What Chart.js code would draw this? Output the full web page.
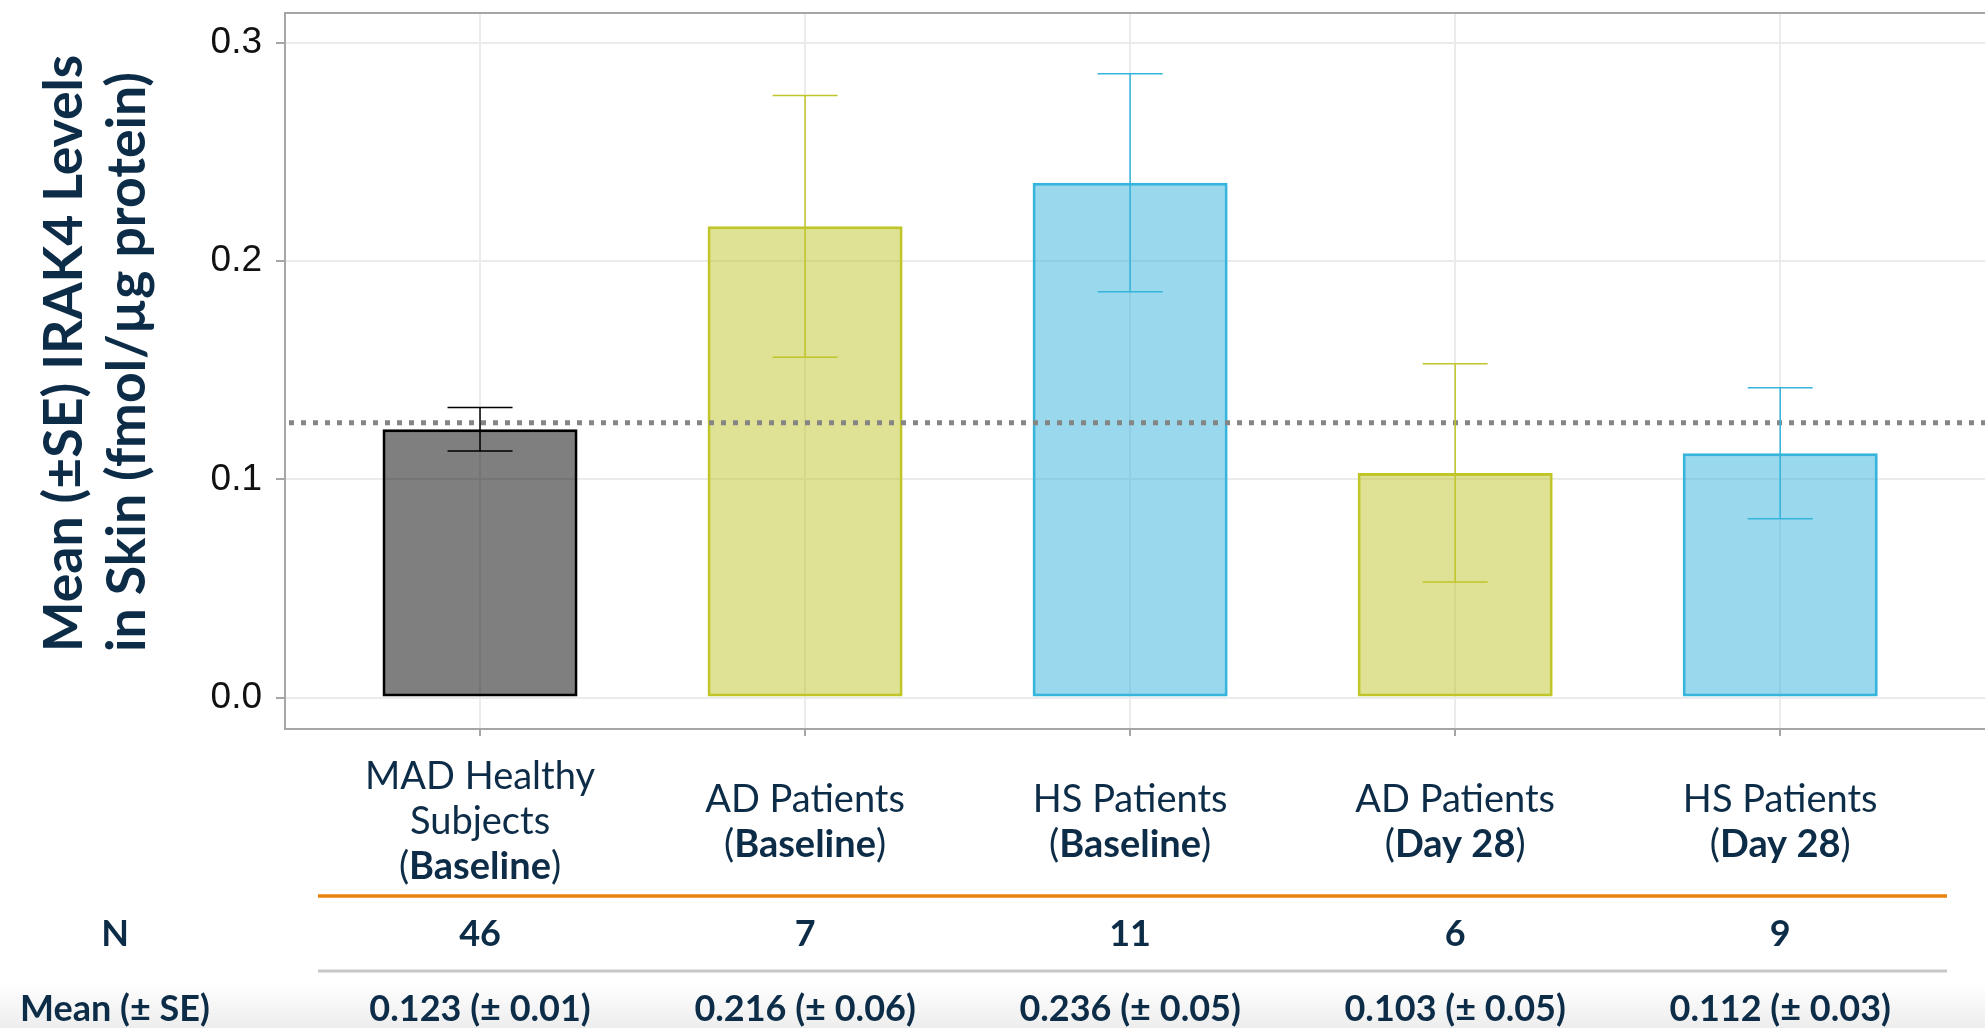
<!DOCTYPE html>
<html>
<head>
<meta charset="utf-8">
<script src="https://cdn.jsdelivr.net/npm/chart.js@4.4.1/dist/chart.umd.min.js"></script>
<style>
  html, body { margin: 0; padding: 0; background: #fff; overflow: hidden; }
  #wrap { position: relative; width: 1985px; height: 1028px; }
</style>
</head>
<body>
<div id="wrap"><canvas id="irak4-chart"></canvas></div>
<script>
// Grupos del eje x (** marca la parte en negrita)
const categories = [
    'MAD Healthy\nSubjects\n(**Baseline**)',
    'AD Patients\n(**Baseline**)',
    'HS Patients\n(**Baseline**)',
    'AD Patients\n(**Day 28**)',
    'HS Patients\n(**Day 28**)'
];
const nCounts = [46, 7, 11, 6, 9];
const meanValues = [0.123, 0.216, 0.236, 0.103, 0.112];
const seValues = [0.01, 0.06, 0.05, 0.05, 0.03];
const yTicks = [0, 0.1, 0.2, 0.3];
const referenceLevel = 0.126; // línea punteada horizontal
const yTitle = ['Mean (±SE) IRAK4 Levels', 'in Skin (fmol/µg protein)'];
const rowLabels = ['N', 'Mean (± SE)'];

const barColors = ['#000000', '#c0c62a', '#35b4dc', '#c0c62a', '#35b4dc'];
const navy = '#0d2c47';
const axisGray = '#a6a6a6';
const gridGray = '#ebebeb';

function withAlpha(hex, a) {
    const n = parseInt(hex.slice(1), 16);
    return `rgba(${(n >> 16) & 255}, ${(n >> 8) & 255}, ${n & 255}, ${a})`;
}

// Dibuja una línea centrada alternando normal / negrita
function drawRichLine(ctx, line, cx, cy, size) {
    const parts = line.split('**');
    const fonts = parts.map((_, k) => `${k % 2 ? 'bold ' : ''}${size}px Lato`);
    const widths = parts.map((p, k) => { ctx.font = fonts[k]; return ctx.measureText(p).width; });
    let xPos = cx - widths.reduce((s, w) => s + w, 0) / 2;
    ctx.textAlign = 'left';
    ctx.textBaseline = 'middle';
    parts.forEach((p, k) => {
        ctx.font = fonts[k];
        ctx.fillText(p, xPos, cy);
        xPos += widths[k];
    });
}

const overlays = {
    id: 'overlays',
    beforeDraw(chart) {
        // sombra suave en el borde inferior
        const { ctx, width, height } = chart;
        const g = ctx.createLinearGradient(0, height - 45, 0, height);
        g.addColorStop(0, 'rgba(0,0,0,0)');
        g.addColorStop(1, 'rgba(0,0,0,0.07)');
        ctx.save();
        ctx.fillStyle = g;
        ctx.fillRect(0, height - 45, width, 45);
        ctx.restore();
    },
    afterDatasetsDraw(chart) {
        const { ctx, chartArea: area, scales: { x, y } } = chart;
        ctx.save();

        // borde superior del panel
        ctx.strokeStyle = axisGray;
        ctx.lineWidth = 2;
        ctx.beginPath();
        ctx.moveTo(area.left - 1, area.top);
        ctx.lineTo(area.right, area.top);
        ctx.stroke();

        // línea de referencia
        const yRef = y.getPixelForValue(referenceLevel);
        ctx.strokeStyle = '#858585';
        ctx.lineWidth = 5;
        ctx.setLineDash([5, 7]);
        ctx.beginPath();
        ctx.moveTo(area.left + 4, yRef);
        ctx.lineTo(area.right, yRef);
        ctx.stroke();
        ctx.setLineDash([]);

        // barras de error (± SE)
        meanValues.forEach((m, i) => {
            const cx = x.getPixelForValue(i);
            const half = x.getPixelForValue(i + 0.1) - cx;
            const top = y.getPixelForValue(m + seValues[i]);
            const bottom = y.getPixelForValue(m - seValues[i]);
            ctx.strokeStyle = barColors[i];
            ctx.lineWidth = 1.5;
            ctx.beginPath();
            ctx.moveTo(cx, top); ctx.lineTo(cx, bottom);
            ctx.moveTo(cx - half, top); ctx.lineTo(cx + half, top);
            ctx.moveTo(cx - half, bottom); ctx.lineTo(cx + half, bottom);
            ctx.stroke();
        });
        ctx.restore();
    },
    afterDraw(chart) {
        const { ctx, scales: { x } } = chart;
        ctx.save();
        ctx.fillStyle = navy;

        // título del eje y, girado y alineado por abajo
        ctx.font = 'bold 53.5px Lato';
        ctx.textAlign = 'left';
        ctx.textBaseline = 'alphabetic';
        yTitle.forEach((t, k) => {
            ctx.save();
            ctx.translate(82 + k * 63, 652);
            ctx.rotate(-Math.PI / 2);
            ctx.fillText(t, 0, 0);
            ctx.restore();
        });

        // etiquetas de grupo
        categories.forEach((c, i) => {
            const lines = c.split('\n');
            const cx = x.getPixelForValue(i);
            lines.forEach((ln, k) => {
                drawRichLine(ctx, ln, cx, 822 + (k - (lines.length - 1) / 2) * 45, 38);
            });
        });

        // tabla inferior
        ctx.lineWidth = 3.5;
        ctx.strokeStyle = '#e8830c';
        ctx.beginPath(); ctx.moveTo(318, 896); ctx.lineTo(1947, 896); ctx.stroke();
        ctx.lineWidth = 3;
        ctx.strokeStyle = '#c8c8c8';
        ctx.beginPath(); ctx.moveTo(318, 971); ctx.lineTo(1947, 971); ctx.stroke();

        ctx.font = 'bold 36px Lato';
        ctx.textAlign = 'center';
        ctx.textBaseline = 'middle';
        ctx.fillText(rowLabels[0], 115, 934);
        ctx.fillText(rowLabels[1], 115, 1009);
        nCounts.forEach((n, i) => ctx.fillText(String(n), x.getPixelForValue(i), 934));
        meanValues.forEach((m, i) => {
            ctx.fillText(`${m.toFixed(3)} (± ${seValues[i].toFixed(2)})`, x.getPixelForValue(i), 1009);
        });
        ctx.restore();
    }
};

const ctx = document.getElementById('irak4-chart').getContext('2d');
new Chart(ctx, {
    type: 'bar',
    data: {
        datasets: [{
            data: meanValues.map((v, i) => ({ x: i, y: v })),
            backgroundColor: barColors.map(c => withAlpha(c, 0.5)),
            borderColor: barColors,
            borderWidth: 3,
            borderSkipped: false,
            barPercentage: 0.6,
            categoryPercentage: 1
        }]
    },
    options: {
        responsive: true,
        maintainAspectRatio: false,
        animation: false,
        layout: { padding: { top: 13, right: 0, bottom: 0, left: 0 } },
        plugins: {
            legend: { display: false },
            tooltip: { enabled: false }
        },
        scales: {
            x: {
                type: 'linear',
                min: -0.6,
                max: 4.63,
                offset: false,
                grid: { offset: false, color: gridGray, lineWidth: 2, tickLength: 7, tickColor: axisGray, tickWidth: 2 },
                border: { color: axisGray, width: 2 },
                ticks: { display: false },
                afterBuildTicks: s => { s.ticks = categories.map((_, i) => ({ value: i })); },
                afterFit: s => { s.height = 299; s.paddingLeft = 0; s.paddingRight = 0; }
            },
            y: {
                min: -0.0144,
                max: 0.3138,
                grid: { color: gridGray, lineWidth: 2, tickLength: 9, tickColor: axisGray, tickWidth: 2 },
                border: { color: axisGray, width: 2 },
                ticks: {
                    callback: v => v.toFixed(1),
                    font: { family: 'Liberation Sans', size: 37 },
                    color: '#111111',
                    padding: 14
                },
                afterBuildTicks: s => { s.ticks = yTicks.map(v => ({ value: v })); },
                afterFit: s => { s.width = 285; s.paddingTop = 0; s.paddingBottom = 0; }
            }
        }
    },
    plugins: [overlays]
});
</script>
</body>
</html>
